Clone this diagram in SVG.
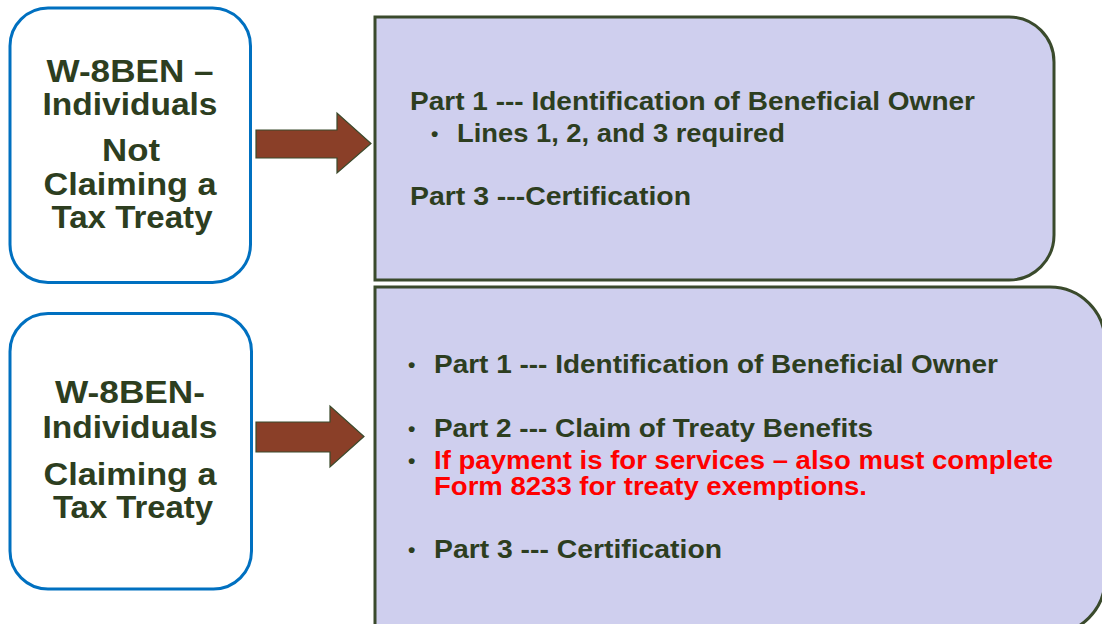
<svg xmlns="http://www.w3.org/2000/svg" width="1102" height="624" viewBox="0 0 1102 624">
<style>
.lbox{fill:#FFFFFF;stroke:#0070C0;stroke-width:3}
.rbox{fill:#CFCFEE;stroke:#3A4A2C;stroke-width:3}
.arrow{fill:#8A3F28;stroke:#3A4A2C;stroke-width:1.2}
.lt{font-family:"Liberation Sans",Arial,sans-serif;font-weight:bold;font-size:32px;fill:#2D3E1F;text-anchor:middle}
.rt{font-family:"Liberation Sans",Arial,sans-serif;font-weight:bold;font-size:25px;fill:#2D3E1F}
.red{fill:#FF0000}
.bul{font-family:"Liberation Sans",Arial,sans-serif;font-weight:bold;font-size:21px;fill:#2D3E1F}
</style>
<rect width="1102" height="624" fill="#FFFFFF"/>

<g id="node-not-claiming">
<rect class="lbox" x="10" y="8" width="240.5" height="274.5" rx="38"/>
<text class="lt" x="130" y="82" textLength="167" lengthAdjust="spacingAndGlyphs">W-8BEN –</text>
<text class="lt" x="130" y="115" textLength="175" lengthAdjust="spacingAndGlyphs">Individuals</text>
<text class="lt" x="131" y="161" textLength="58" lengthAdjust="spacingAndGlyphs">Not</text>
<text class="lt" x="130" y="195" textLength="173" lengthAdjust="spacingAndGlyphs">Claiming a</text>
<text class="lt" x="132" y="228" textLength="161" lengthAdjust="spacingAndGlyphs">Tax Treaty</text>
</g>

<g id="node-claiming">
<rect class="lbox" x="10" y="313.5" width="241.5" height="275.5" rx="38"/>
<text class="lt" x="130" y="403" textLength="150" lengthAdjust="spacingAndGlyphs">W-8BEN-</text>
<text class="lt" x="130" y="438" textLength="175" lengthAdjust="spacingAndGlyphs">Individuals</text>
<text class="lt" x="130" y="485" textLength="173" lengthAdjust="spacingAndGlyphs">Claiming a</text>
<text class="lt" x="133" y="518" textLength="160" lengthAdjust="spacingAndGlyphs">Tax Treaty</text>
</g>

<g id="node-parts-not-claiming">
<path class="rbox" d="M375,17 H1009 A45,45 0 0 1 1054,62 V235 A45,45 0 0 1 1009,280 H375 Z"/>
<text class="rt" x="410" y="110" textLength="565" lengthAdjust="spacingAndGlyphs">Part 1 --- Identification of Beneficial Owner</text>
<text class="bul" x="431" y="141">•</text>
<text class="rt" x="457" y="142" textLength="328" lengthAdjust="spacingAndGlyphs">Lines 1, 2, and 3 required</text>
<text class="rt" x="410" y="205" textLength="281" lengthAdjust="spacingAndGlyphs">Part 3 ---Certification</text>
</g>

<g id="node-parts-claiming">
<path class="rbox" d="M375,287 H1050 A55,55 0 0 1 1105,342 V579 A55,55 0 0 1 1050,634 H375 Z"/>
<text class="bul" x="408" y="372">•</text>
<text class="rt" x="434" y="373" textLength="564" lengthAdjust="spacingAndGlyphs">Part 1 --- Identification of Beneficial Owner</text>
<text class="bul" x="408" y="436">•</text>
<text class="rt" x="434" y="437" textLength="439" lengthAdjust="spacingAndGlyphs">Part 2 --- Claim of Treaty Benefits</text>
<text class="bul red" x="408" y="468">•</text>
<text class="rt red" x="434" y="469" textLength="619" lengthAdjust="spacingAndGlyphs">If payment is for services – also must complete</text>
<text class="rt red" x="434" y="495" textLength="433" lengthAdjust="spacingAndGlyphs">Form 8233 for treaty exemptions.</text>
<text class="bul" x="408" y="557">•</text>
<text class="rt" x="434" y="558" textLength="288" lengthAdjust="spacingAndGlyphs">Part 3 --- Certification</text>
</g>

<g id="connectors">
<polygon class="arrow" points="256,130 337,130 337,113 371,143.5 337,173 337,158 256,158"/>
<polygon class="arrow" points="256,422 330,422 330,406 364,436.5 330,467 330,452 256,452"/>
</g>
</svg>
